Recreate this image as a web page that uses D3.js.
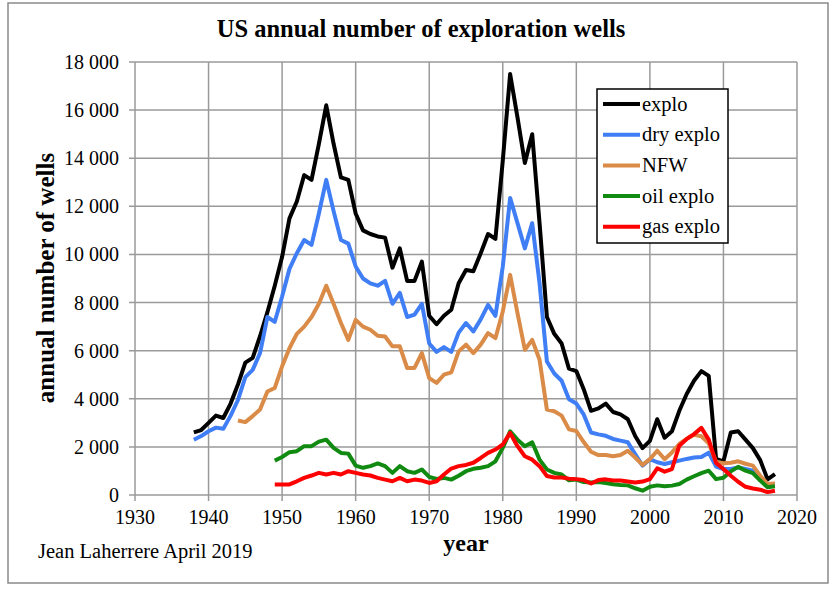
<!DOCTYPE html>
<html>
<head>
<meta charset="utf-8">
<script src="https://cdn.jsdelivr.net/npm/d3@7"></script>
<style>
  body { margin: 0; background: #fff; }
  svg { display: block; font-family: 'Liberation Serif', 'Times New Roman', serif; }
</style>
</head>
<body>
<div id="chart"></div>
<script>
// annual number of wells
const exploStart = 1938;
const explo = [2600, 2700, 3000, 3300, 3200, 3800, 4600, 5500, 5700, 6600,
  7600, 8700, 9900, 11500, 12200, 13300, 13100, 14600, 16200, 14600,
  13200, 13100, 11700, 11000, 10850, 10750, 10700, 9450, 10250, 8900,
  8900, 9700, 7450, 7100, 7450, 7700, 8800, 9350, 9300, 10050,
  10850, 10650, 13900, 17500, 15700, 13800, 15000, 11300, 7400, 6700,
  6300, 5250, 5150, 4400, 3500, 3600, 3800, 3450, 3350, 3150,
  2450, 1950, 2250, 3150, 2380, 2650, 3500, 4200, 4750, 5150,
  4950, 1500, 1400, 2600, 2650, 2300, 1950, 1450, 650, 870];

const dryStart = 1938;
const dry = [2300, 2450, 2650, 2800, 2750, 3300, 3950, 4900, 5200, 5900,
  7400, 7200, 8250, 9400, 10050, 10600, 10400, 11700, 13100, 11800,
  10600, 10450, 9500, 9000, 8800, 8700, 8900, 7950, 8400, 7400,
  7500, 7950, 6300, 5950, 6150, 5950, 6750, 7150, 6800, 7300,
  7900, 7450, 9500, 12350, 11300, 10250, 11300, 8800, 5550, 5050,
  4750, 3980, 3800, 3350, 2600, 2520, 2460, 2330, 2260, 2190,
  1700, 1220, 1490, 1360, 1290, 1360, 1430, 1500, 1560, 1580,
  1760, 1180, 1080, 1080, 1150, 1080, 1010, 660, 460, 460];

const nfwStart = 1944;
const nfw = [3100, 3030, 3280, 3550, 4300, 4450, 5350, 6100, 6700, 7000,
  7400, 7950, 8700, 7950, 7150, 6450, 7280, 7000, 6870, 6620,
  6590, 6180, 6180, 5280, 5280, 5900, 4860, 4660, 5000, 5100,
  5970, 6250, 5900, 6250, 6730, 6520, 7630, 9150, 7560, 6040,
  6450, 5620, 3550, 3480, 3300, 2730, 2660, 2200, 1800, 1660,
  1660, 1610, 1660, 1840, 1560, 1250, 1490, 1840, 1490, 1770,
  2120, 2330, 2500, 2440, 2150, 1380, 1320, 1340, 1400, 1300,
  1220, 800, 460, 480];

const oilStart = 1949;
const oil = [1430, 1580, 1780, 1820, 2030, 2030, 2220, 2300, 1960, 1750,
  1720, 1220, 1130, 1200, 1310, 1200, 920, 1200, 990, 920,
  1060, 750, 670, 710, 640, 800, 990, 1090, 1130, 1200,
  1400, 1960, 2650, 2300, 2030, 2190, 1470, 1060, 920, 850,
  610, 640, 540, 520, 540, 500, 450, 420, 400, 280,
  180, 340, 400, 360, 390, 460, 640, 780, 910, 1010,
  660, 720, 980, 1170, 1010, 910, 600, 320, 360];

const gasStart = 1949;
const gas = [440, 440, 440, 570, 710, 810, 920, 850, 920, 850,
  990, 920, 850, 810, 710, 640, 570, 710, 570, 640,
  600, 500, 570, 850, 1100, 1200, 1250, 1340, 1540, 1750,
  1890, 2100, 2580, 2030, 1610, 1470, 1200, 790, 730, 730,
  680, 660, 620, 480, 620, 650, 600, 600, 560, 520,
  560, 660, 1110, 970, 1080, 2050, 2330, 2530, 2790, 2300,
  1330, 1080, 800, 550, 340, 270, 220, 120, 180];

const seriesNames = ['explo', 'dry explo', 'NFW', 'oil explo', 'gas explo'];
const seriesColors = ['#000000', '#3f7ef5', '#d98b47', '#118a11', '#ff0000'];
const seriesData = [[exploStart, explo], [dryStart, dry], [nfwStart, nfw], [oilStart, oil], [gasStart, gas]];

const xTicks = [1930, 1940, 1950, 1960, 1970, 1980, 1990, 2000, 2010, 2020];
const yTicks = [0, 2000, 4000, 6000, 8000, 10000, 12000, 14000, 16000, 18000];

const width = 840;
const height = 591;
const margin = { left: 135, top: 62, right: 43, bottom: 96 };

const xScale = d3.scaleLinear()
  .domain([1930, 2020])
  .range([margin.left, width - margin.right]);
const yScale = d3.scaleLinear()
  .domain([0, 18000])
  .range([height - margin.bottom, margin.top]);

const fmt = v => d3.format(',')(v).replace(',', ' ');

const svg = d3.select('#chart')
  .append('svg')
  .attr('width', width)
  .attr('height', height);

// outer frame
svg.append('rect')
  .attr('x', 8)
  .attr('y', 3)
  .attr('width', 820)
  .attr('height', 580)
  .attr('fill', '#fff')
  .attr('stroke', '#8a8a8a')
  .attr('stroke-width', 1.5);

// grid
svg.append('g')
  .selectAll('line')
  .data(yTicks)
  .join('line')
  .attr('x1', margin.left - 6)
  .attr('x2', width - margin.right)
  .attr('y1', d => yScale(d))
  .attr('y2', d => yScale(d))
  .attr('stroke', '#9a9a9a')
  .attr('stroke-width', 1.5);

svg.append('g')
  .selectAll('line')
  .data(xTicks)
  .join('line')
  .attr('x1', d => xScale(d))
  .attr('x2', d => xScale(d))
  .attr('y1', margin.top)
  .attr('y2', height - margin.bottom + 6)
  .attr('stroke', '#9a9a9a')
  .attr('stroke-width', 1.5);

// tick labels
svg.append('g')
  .selectAll('text')
  .data(yTicks)
  .join('text')
  .attr('x', margin.left - 16)
  .attr('y', d => yScale(d))
  .attr('dy', 7)
  .attr('text-anchor', 'end')
  .style('font-size', '20px')
  .text(d => fmt(d));

svg.append('g')
  .selectAll('text')
  .data(xTicks)
  .join('text')
  .attr('x', d => xScale(d))
  .attr('y', height - margin.bottom + 29)
  .attr('text-anchor', 'middle')
  .style('font-size', '20px')
  .text(d => d);

// series
const line = d3.line()
  .x(d => xScale(d[0]))
  .y(d => yScale(d[1]));

seriesData.forEach(([start, values], i) => {
  const pts = values.map((v, j) => [start + j, v]);
  svg.append('path')
    .datum(pts)
    .attr('fill', 'none')
    .attr('stroke', seriesColors[i])
    .attr('stroke-width', 4)
    .attr('stroke-linejoin', 'round')
    .attr('d', line);
});

// legend
const legend = svg.append('g')
  .attr('transform', 'translate(597, 89)');

legend.append('rect')
  .attr('width', 131)
  .attr('height', 154)
  .attr('fill', '#fff')
  .attr('stroke', '#000')
  .attr('stroke-width', 1.5);

const item = legend.selectAll('g.item')
  .data(seriesNames)
  .join('g')
  .attr('class', 'item')
  .attr('transform', (d, i) => `translate(0, ${15 + i * 30.7})`);

item.append('line')
  .attr('x1', 6)
  .attr('x2', 43)
  .attr('stroke', (d, i) => seriesColors[i])
  .attr('stroke-width', 4);

item.append('text')
  .attr('x', 45)
  .attr('dy', 6.5)
  .style('font-size', '20.5px')
  .text(d => d);

// titles
svg.append('text')
  .attr('x', 421)
  .attr('y', 37)
  .attr('text-anchor', 'middle')
  .style('font-size', '24.5px')
  .style('font-weight', 'bold')
  .text('US annual number of exploration wells');

svg.append('text')
  .attr('transform', 'translate(54, 278) rotate(-90)')
  .attr('text-anchor', 'middle')
  .style('font-size', '25px')
  .style('font-weight', 'bold')
  .text('annual number of wells');

svg.append('text')
  .attr('x', 466)
  .attr('y', 551)
  .attr('text-anchor', 'middle')
  .style('font-size', '24px')
  .style('font-weight', 'bold')
  .text('year');

svg.append('text')
  .attr('x', 38)
  .attr('y', 558)
  .style('font-size', '20.5px')
  .text('Jean Laherrere April 2019');
</script>
</body>
</html>
